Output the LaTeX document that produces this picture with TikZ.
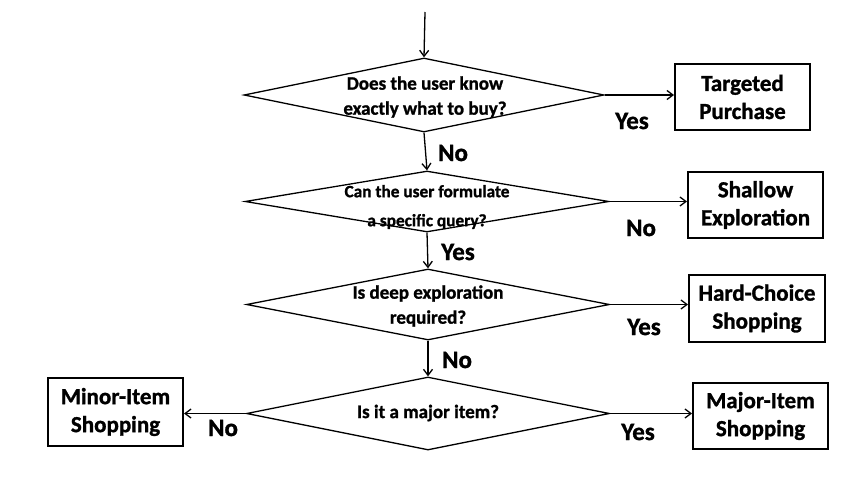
\documentclass[tikz,border=0pt]{standalone}
\usepackage{fontspec}
\setmainfont{Carlito}[BoldFeatures={FakeBold=1.2}]
\usetikzlibrary{shapes.geometric,arrows.meta}
\begin{document}
\begin{tikzpicture}[x=1pt,y=-1pt,
  dia/.style={draw,shape=diamond,inner sep=0pt,line width=1.3pt},
  qtext/.style={align=center,font=\bfseries\fontsize{19}{25}\selectfont,inner sep=0pt},
  outbox/.style={draw,line width=2pt,align=center,inner sep=0pt,minimum width=135pt,minimum height=66pt,font=\bfseries\fontsize{23}{28}\selectfont},
  lab/.style={font=\bfseries\fontsize{25}{28}\selectfont,inner sep=0pt},
  arr/.style={line width=1.3pt,-{Straight Barb[length=6pt,width=9pt]}}]
\useasboundingbox (0,0) rectangle (850,482);
% diamonds
\node[dia,minimum width=360pt,minimum height=74pt] (d1) at (424,95) {};
\node[dia,minimum width=364pt,minimum height=61pt] (d2) at (427,201.5) {};
\node[dia,minimum width=363pt,minimum height=71pt] (d3) at (428,304.5) {};
\node[dia,minimum width=363pt,minimum height=73pt] (d4) at (428,413.5) {};
\node[qtext] (q1) at (425,97) {Does the user know\\exactly what to buy?};
\node[qtext,font=\bfseries\fontsize{17.3}{29}\selectfont] (q2) at (427,207) {Can the user formulate\\a specific query?};
\node[qtext] (q3) at (428,306) {Is deep exploration\\required?};
\node[qtext] (q4) at (428,413) {Is it a major item?};
% outcome boxes
\node[outbox] (t) at (742.5,97) {Targeted\\Purchase};
\node[outbox] (s) at (755.5,205) {Shallow\\Exploration};
\node[outbox,minimum width=136pt,minimum height=67pt] (h) at (757,308.5) {Hard-Choice\\Shopping};
\node[outbox] (m) at (760.5,416) {Major-Item\\Shopping};
\node[outbox,minimum height=68pt] (n) at (115.5,412) {Minor-Item\\Shopping};
% connectors
\coordinate (start) at (425,12);
\draw[arr] (start) -- (d1.north);
\draw[arr] (d1.south) -- (d2.north);
\draw[arr] (d2.south) -- (d3.north);
\draw[arr] (d3.south) -- (d4.north);
\draw[arr] (d1.east) -- (d1.east -| t.west);
\draw[arr] (d2.east) -- (d2.east -| s.west);
\draw[arr] (d3.east) -- (d3.east -| h.west);
\draw[arr] (d4.east) -- (d4.east -| m.west);
\draw[arr] (d4.west) -- (d4.west -| n.east);
% labels
\node[lab] (l1) at (632,121) {Yes};
\node[lab] (l2) at (453,153) {No};
\node[lab] (l3) at (641,228) {No};
\node[lab] (l4) at (458,252) {Yes};
\node[lab] (l5) at (644,327) {Yes};
\node[lab] (l6) at (457,360) {No};
\node[lab] (l7) at (638,432) {Yes};
\node[lab] (l8) at (223,428) {No};
\end{tikzpicture}
\end{document}
